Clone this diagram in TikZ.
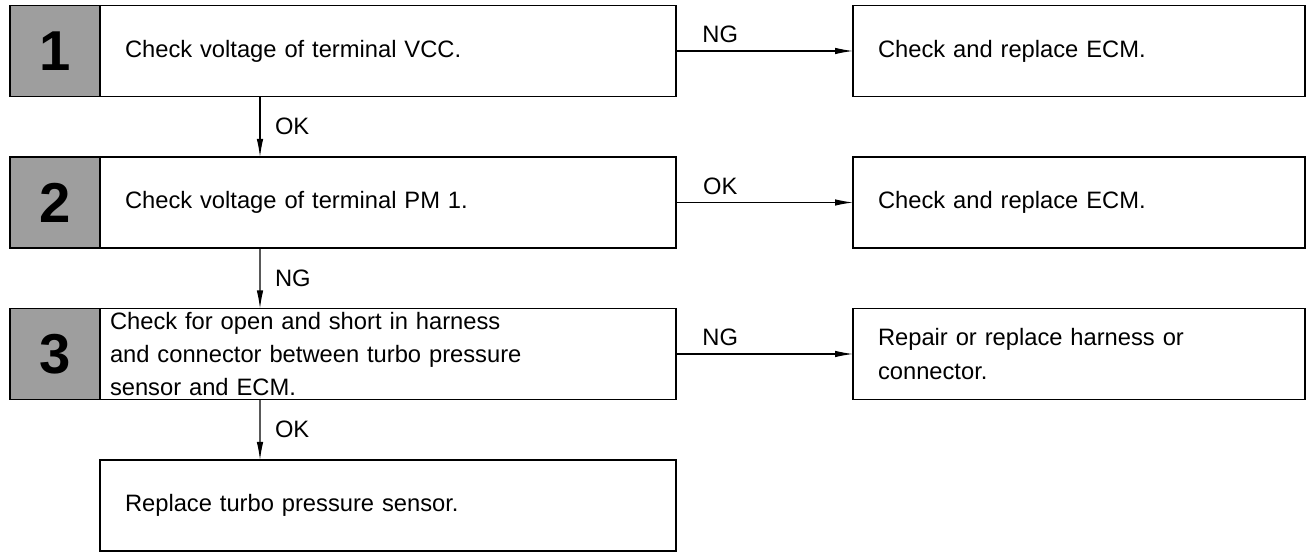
\documentclass[tikz,border=0pt]{standalone}
\usepackage{fontspec}
\setmainfont{Liberation Sans}
\usetikzlibrary{positioning,arrows.meta}

\begin{document}
\begin{tikzpicture}[
		node distance=1.21cm and 3.54cm,
		every node/.style={
			outer sep=0pt,
			font=\fontsize{13.5}{19}\selectfont
		},
		stepbox/.style={
			draw,
			line width=1.1pt,
			align=left,
			minimum height=1.82cm,
			text width=10.52cm,
			inner xsep=0.5cm,
			inner ysep=0pt
		},
		numbox/.style={
			draw,
			line width=1.1pt,
			fill=black!38,
			minimum width=1.8cm,
			minimum height=1.82cm,
			inner sep=0pt,
			font=\fontsize{32}{32}\selectfont\bfseries
		},
		sidebox/.style={
			draw,
			line width=1.1pt,
			align=left,
			minimum height=1.82cm,
			text width=8.04cm,
			inner xsep=0.5cm,
			inner ysep=0pt
		},
		lbl/.style={inner sep=0pt},
		flow/.style={-{Latex[length=3.6mm,width=1.3mm]},line width=0.6pt}
		]
		
		\useasboundingbox (0,0) rectangle (26.12,-11.04);
		
		\node[stepbox]
		(s1) at (7.76,-1.02)
		{Check voltage of terminal VCC.};
		
		\node[stepbox,below=of s1]
		(s2)
		{Check voltage of terminal PM 1.};
		
		\node[stepbox,below=of s2,text width=11.12cm,inner xsep=0.2cm]
		(s3)
		{Check for open and short in harness\\and connector between turbo pressure\\sensor and ECM.};
		
		\node[stepbox,below=of s3]
		(s4)
		{Replace turbo pressure sensor.};
		
		\node[numbox,left=0pt of s1] (n1) {1};
		\node[numbox,left=0pt of s2] (n2) {2};
		\node[numbox,left=0pt of s3] (n3) {3};
		
		\node[sidebox,right=of s1]
		(r1)
		{Check and replace ECM.};
		
		\node[sidebox,right=of s2]
		(r2)
		{Check and replace ECM.};
		
		\node[sidebox,right=of s3]
		(r3)
		{Repair or replace harness or\\connector.};
		
		\draw[flow] ([xshift=3.2cm]s1.south west) -- node[lbl,right=0.3cm] {OK} ([xshift=3.2cm]s2.north west);
		\draw[flow] ([xshift=3.2cm]s2.south west) -- node[lbl,right=0.3cm] {NG} ([xshift=3.2cm]s3.north west);
		\draw[flow] ([xshift=3.2cm]s3.south west) -- node[lbl,right=0.3cm] {OK} ([xshift=3.2cm]s4.north west);
		
		\draw[flow] (s1) -- node[lbl,pos=0.25,above=0.16cm] {NG} (r1);
		\draw[flow] (s2) -- node[lbl,pos=0.25,above=0.16cm] {OK} (r2);
		\draw[flow] (s3) -- node[lbl,pos=0.25,above=0.16cm] {NG} (r3);
		
	\end{tikzpicture}
\end{document}
